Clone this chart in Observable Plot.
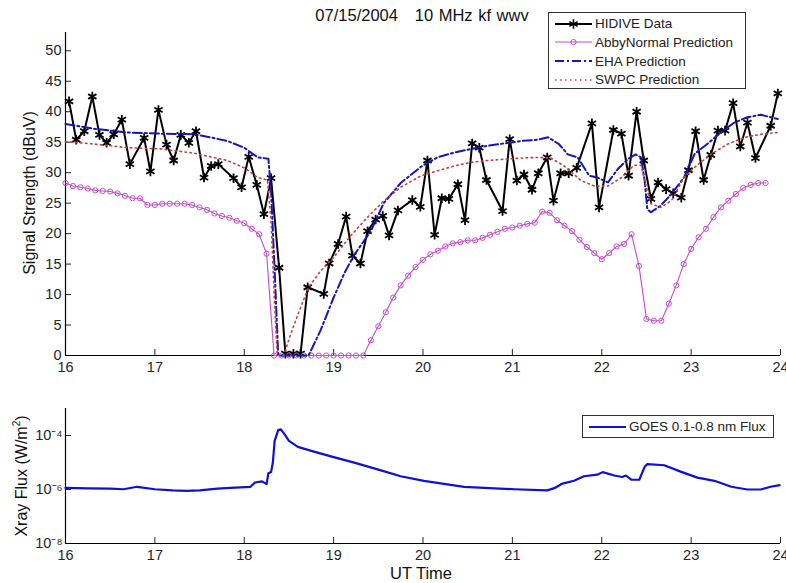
<!DOCTYPE html>
<html><head><meta charset="utf-8">
<script src="https://cdn.jsdelivr.net/npm/d3@7"></script>
<script src="https://cdn.jsdelivr.net/npm/@observablehq/plot@0.6"></script>
<style>
body{margin:0;background:#fff;font-family:"Liberation Sans",Arial,sans-serif;}
#wrap{position:relative;width:786px;height:583px;overflow:hidden;background:#fff;}
.abs{position:absolute;white-space:pre;color:#111;}
.rot{transform:translate(-50%,-50%) rotate(-90deg);}
.cen{transform:translate(-50%,-50%);}
.legend{position:absolute;background:#fff;border:1px solid #333;box-sizing:border-box;}
.row{position:absolute;left:0;height:19px;display:flex;align-items:center;font-size:13.5px;color:#222;white-space:nowrap;}
.row svg{margin-left:6px;margin-right:3px;}
</style></head><body><div id="wrap"></div>
<script>
// ---- HIDIVE measured data (UT hours, dBuV)
const hidiveTime = [16.04,16.12,16.21,16.30,16.38,16.46,16.54,16.63,16.72,16.88,16.95,17.04,17.13,17.21,17.29,17.38,17.46,17.55,17.63,17.71,17.88,17.97,18.05,18.14,18.22,18.30,18.39,18.46,18.55,18.63,18.71,18.89,18.95,19.05,19.14,19.21,19.30,19.38,19.47,19.55,19.62,19.72,19.88,19.97,20.05,20.13,20.21,20.29,20.39,20.47,20.55,20.63,20.71,20.89,20.97,21.05,21.13,21.22,21.29,21.39,21.46,21.54,21.63,21.72,21.89,21.97,22.13,22.22,22.30,22.39,22.47,22.55,22.63,22.72,22.80,22.89,22.97,23.05,23.14,23.22,23.30,23.38,23.47,23.55,23.63,23.72,23.89,23.97];
const hidiveValue = [41.7,35.4,36.8,42.5,36.2,34.9,36.3,38.7,31.4,35.7,30.2,40.3,34.6,32.0,36.2,34.9,36.8,29.2,31.1,31.4,29.1,27.6,32.6,28.0,23.2,29.1,14.4,0.3,0.3,0.3,11.2,10.1,15.1,18.3,22.8,16.4,15.1,20.4,22.3,22.9,19.7,23.8,25.5,24.4,32.0,19.8,25.8,25.7,28.1,22.2,34.8,34.1,28.8,23.7,35.5,28.7,29.7,27.2,29.9,32.5,25.4,29.9,29.9,30.8,38.1,24.3,37.0,36.4,29.5,40.0,32.0,25.7,28.4,27.3,26.6,25.9,30.4,36.8,28.8,32.9,36.9,36.9,41.4,34.3,38.2,32.4,37.7,43.0];

// ---- AbbyNormal prediction, 5-minute steps starting 16:00
const abbyStart = 16, abbyStep = 1/12;
const abbyValue = [28.3,27.8,27.6,27.4,27.1,27.0,26.9,26.6,26.2,25.8,25.8,24.7,24.7,24.9,24.9,24.9,24.9,24.7,24.3,23.9,23.3,22.9,22.6,22.1,21.7,20.8,19.9,16.7,
  0,0,0,0,0,0,0,0,0,0,0,0,0,
  2.5,4.8,7.1,9.5,11.5,13.1,14.5,15.7,16.6,17.2,17.9,18.4,18.6,18.9,18.9,19.3,19.8,20.3,20.8,21.0,21.3,21.6,21.8,23.6,23.4,22.2,21.3,20.4,19.0,17.8,16.8,15.8,16.8,17.9,18.3,19.9,14.7,6.0,5.7,5.7,8.5,11.5,15.0,17.5,19.4,20.8,22.7,24.3,25.4,26.5,27.5,28.0,28.3,28.3];

// ---- EHA prediction
const ehaTime = [16.0,16.32,16.69,17.06,17.44,17.62,17.81,18.0,18.15,18.27,18.30,18.34,18.38,18.72,18.85,19.0,19.12,19.23,19.42,19.56,19.75,19.98,20.16,20.35,20.54,20.72,20.91,21.10,21.28,21.40,21.52,21.62,21.73,21.80,21.86,21.95,22.07,22.18,22.29,22.38,22.44,22.48,22.51,22.55,22.66,22.78,22.92,23.04,23.18,23.33,23.48,23.63,23.78,23.97];
const ehaValue = [38.0,37.2,36.6,36.4,36.3,35.8,35.2,34.1,32.5,32.3,27.0,14.0,0,0,4.0,9.5,13.5,16.5,20.5,25.0,28.3,31.0,32.5,33.3,33.9,34.4,34.8,35.2,35.4,35.8,34.7,33.0,32.5,30.9,29.5,29.2,28.4,30.6,32.2,33.0,32.5,28.7,24.0,23.5,24.6,26.5,29.2,33.1,34.7,36.6,38.2,39.1,39.5,38.8];

// ---- SWPC prediction
const swpcTime = [16.0,16.32,16.69,17.06,17.44,17.62,17.81,18.0,18.15,18.26,18.30,18.34,18.37,18.44,18.52,18.62,18.72,18.85,19.0,19.2,19.38,19.55,19.75,19.98,20.16,20.35,20.54,20.72,20.91,21.10,21.28,21.43,21.58,21.77,21.92,22.07,22.22,22.36,22.44,22.48,22.55,22.66,22.78,22.92,23.04,23.22,23.41,23.60,23.78,23.97];
const swpcValue = [35.1,34.7,34.1,33.9,33.2,32.6,32.0,30.8,29.2,28.8,22.0,8.0,0,0,3.5,7.5,11.2,13.8,16.1,19.8,22.7,25.2,27.6,29.5,30.3,31.1,31.7,32.0,32.2,32.4,32.5,32.4,31.1,28.7,27.8,27.8,29.2,31.2,31.2,28.7,24.9,24.3,25.4,29.2,30.9,33.0,34.7,35.8,36.3,36.6];

// ---- GOES 0.1-0.8 nm X-ray flux (W/m^2)
const goesTime = [16.0,16.25,16.5,16.65,16.8,17.0,17.2,17.35,17.5,17.7,17.9,18.07,18.12,18.2,18.25,18.27,18.30,18.32,18.34,18.38,18.41,18.45,18.5,18.6,18.75,19.0,19.25,19.53,19.75,20.01,20.46,21.02,21.39,21.47,21.56,21.69,21.80,21.95,22.01,22.14,22.23,22.27,22.33,22.42,22.48,22.51,22.70,22.89,23.07,23.26,23.45,23.63,23.78,23.89,23.99];
const goesFlux = [1.15e-6,1.1e-6,1.07e-6,1.02e-6,1.26e-6,1.02e-6,0.93e-6,0.89e-6,0.93e-6,1.07e-6,1.17e-6,1.26e-6,1.82e-6,2.0e-6,1.58e-6,3.98e-6,4.4e-6,1e-5,6.3e-5,1.58e-4,1.7e-4,1.12e-4,6.3e-5,3.8e-5,2.7e-5,1.58e-5,9.5e-6,5.1e-6,3.1e-6,2.1e-6,1.26e-6,1.02e-6,0.93e-6,1.12e-6,1.66e-6,2.1e-6,3.1e-6,3.55e-6,4.4e-6,3.3e-6,2.9e-6,3.3e-6,2.3e-6,2.3e-6,6.9e-6,8.7e-6,7.9e-6,4.5e-6,2.75e-6,2.1e-6,1.26e-6,1.0e-6,1.0e-6,1.26e-6,1.45e-6];

// ---- ticks and labels
const xTicks = [16,17,18,19,20,21,22,23,24];
const yTicks = [0,5,10,15,20,25,30,35,40,45,50];
const fluxTicks = [1e-8,1e-6,1e-4];
const titleText = "07/15/2004   10 MHz kf wwv";
const seriesNames = ["HIDIVE Data","AbbyNormal Prediction","EHA Prediction","SWPC Prediction"];
const goesName = "GOES 0.1-0.8 nm Flux";

const C = {hidive:"#000000", abby:"#c44ccc", eha:"#1515b8", swpc:"#c8403c", goes:"#1010d0"};

const hidive = hidiveTime.map((t,i)=>({t, v: hidiveValue[i]}));
const abby = abbyValue.map((v,i)=>({t: abbyStart + i*abbyStep, v}));
const eha = ehaTime.map((t,i)=>({t, v: ehaValue[i]}));
const swpc = swpcTime.map((t,i)=>({t, v: swpcValue[i]}));
const goes = goesTime.map((t,i)=>({t, f: goesFlux[i]}));

const font = {fontFamily:"'Liberation Sans', Arial, sans-serif", fontSize:"14.5px", color:"#262626", background:"transparent", overflow:"visible"};
const sup = {"-":"\u207B","0":"\u2070","1":"\u00B9","2":"\u00B2","3":"\u00B3","4":"\u2074","5":"\u2075","6":"\u2076","7":"\u2077","8":"\u2078","9":"\u2079"};
const fmtPow = d => "10" + String(Math.round(Math.log10(d))).split("").map(c=>sup[c]).join("");
const blank = () => "";

const topPlot = Plot.plot({
  width: 786, height: 375,
  marginLeft: 65, marginRight: 6, marginTop: 32, marginBottom: 20,
  style: font,
  x: {domain:[16,24]},
  y: {domain:[0,53]},
  marks: [
    Plot.axisX({ticks:xTicks, tickSize:-6, tickFormat:blank, label:null}),
    Plot.axisX({ticks:xTicks, tickSize:0, tickPadding:6, label:null}),
    Plot.axisY({ticks:yTicks, tickSize:-6, tickFormat:blank, label:null}),
    Plot.axisY({ticks:yTicks, tickSize:0, tickPadding:4, label:null}),
    Plot.ruleY([0], {stroke:"#000", strokeWidth:1.2}),
    Plot.ruleX([16], {stroke:"#000", strokeWidth:1.2}),
    Plot.line(hidive, {x:"t", y:"v", stroke:C.hidive, strokeWidth:2}),
    Plot.dot(hidive, {x:"t", y:"v", symbol:"asterisk", r:4.5, stroke:C.hidive, strokeWidth:1.8}),
    Plot.line(abby, {x:"t", y:"v", stroke:C.abby, strokeWidth:1.1}),
    Plot.dot(abby, {x:"t", y:"v", r:2.6, stroke:C.abby, fill:"none", strokeWidth:1}),
    Plot.line(eha, {x:"t", y:"v", stroke:C.eha, strokeWidth:2, strokeDasharray:"9,3,2,3"}),
    Plot.line(swpc, {x:"t", y:"v", stroke:C.swpc, strokeWidth:1.6, strokeDasharray:"1.5,3.5"})
  ]
});

const botPlot = Plot.plot({
  width: 786, height: 208,
  marginLeft: 65, marginRight: 6, marginTop: 33, marginBottom: 40,
  style: font,
  x: {domain:[16,24]},
  y: {type:"log", domain:[1e-8,1e-3]},
  marks: [
    Plot.axisX({ticks:xTicks, tickSize:-6, tickFormat:blank, label:null}),
    Plot.axisX({ticks:xTicks, tickSize:0, tickPadding:6, label:null}),
    Plot.axisY({ticks:fluxTicks, tickSize:-6, tickFormat:blank, label:null}),
    Plot.axisY({ticks:fluxTicks, tickSize:0, tickPadding:3, tickFormat:fmtPow, label:null}),
    Plot.ruleY([1e-8], {stroke:"#000", strokeWidth:1.2}),
    Plot.ruleX([16], {stroke:"#000", strokeWidth:1.2}),
    Plot.line(goes, {x:"t", y:"f", stroke:C.goes, strokeWidth:2.2})
  ]
});

const wrap = document.getElementById("wrap");
topPlot.style.position = "absolute"; topPlot.style.left = "0px"; topPlot.style.top = "0px";
botPlot.style.position = "absolute"; botPlot.style.left = "0px"; botPlot.style.top = "375px";
wrap.appendChild(topPlot);
wrap.appendChild(botPlot);

function addDiv(html, css, cls) {
  const d = document.createElement("div");
  d.className = "abs " + (cls||"");
  d.innerHTML = html;
  Object.assign(d.style, css);
  wrap.appendChild(d);
  return d;
}
addDiv(titleText, {left:"422px", top:"15px", fontSize:"16.5px", wordSpacing:"1px"}, "cen");
addDiv("Signal Strength (dBuV)", {left:"30px", top:"193px", fontSize:"16px"}, "rot");
addDiv("Xray Flux (W/m<sup style='font-size:10px'>2</sup>)", {left:"21px", top:"476px", fontSize:"16px"}, "rot");
addDiv("UT Time", {left:"421px", top:"573px", fontSize:"16.5px"}, "cen");

function swatch(kind) {
  const w = 37, h = 12, y = 6;
  let s = `<svg width="${w}" height="${h}">`;
  if (kind === 0) {
    s += `<line x1="0" y1="${y}" x2="${w}" y2="${y}" stroke="${C.hidive}" stroke-width="2"/>`;
    s += `<path transform="translate(${w/2},${y})" d="${d3.symbol(d3.symbolAsterisk, 64)()}" stroke="${C.hidive}" stroke-width="1.6" fill="none"/>`;
  } else if (kind === 1) {
    s += `<line x1="0" y1="${y}" x2="${w}" y2="${y}" stroke="${C.abby}" stroke-width="1.1"/>`;
    s += `<circle cx="${w/2}" cy="${y}" r="2.6" stroke="${C.abby}" fill="none"/>`;
  } else if (kind === 2) {
    s += `<line x1="0" y1="${y}" x2="${w}" y2="${y}" stroke="${C.eha}" stroke-width="2" stroke-dasharray="9,3,2,3"/>`;
  } else if (kind === 3) {
    s += `<line x1="0" y1="${y}" x2="${w}" y2="${y}" stroke="${C.swpc}" stroke-width="1.6" stroke-dasharray="1.5,3.5"/>`;
  } else {
    s += `<line x1="0" y1="${y}" x2="${w}" y2="${y}" stroke="${C.goes}" stroke-width="2.2"/>`;
  }
  return s + "</svg>";
}

const leg = document.createElement("div");
leg.className = "legend";
Object.assign(leg.style, {left:"548px", top:"12px", width:"198px", height:"77px"});
seriesNames.forEach((n,i) => {
  const r = document.createElement("div");
  r.className = "row";
  r.style.top = (1 + i*18.8) + "px";
  r.innerHTML = swatch(i) + `<span>${n}</span>`;
  leg.appendChild(r);
});
wrap.appendChild(leg);

const leg2 = document.createElement("div");
leg2.className = "legend";
Object.assign(leg2.style, {left:"582px", top:"415px", width:"192px", height:"23px"});
const r2 = document.createElement("div");
r2.className = "row"; r2.style.top = "1px";
r2.innerHTML = swatch(4) + `<span>${goesName}</span>`;
leg2.appendChild(r2);
wrap.appendChild(leg2);
</script>
</body></html>
